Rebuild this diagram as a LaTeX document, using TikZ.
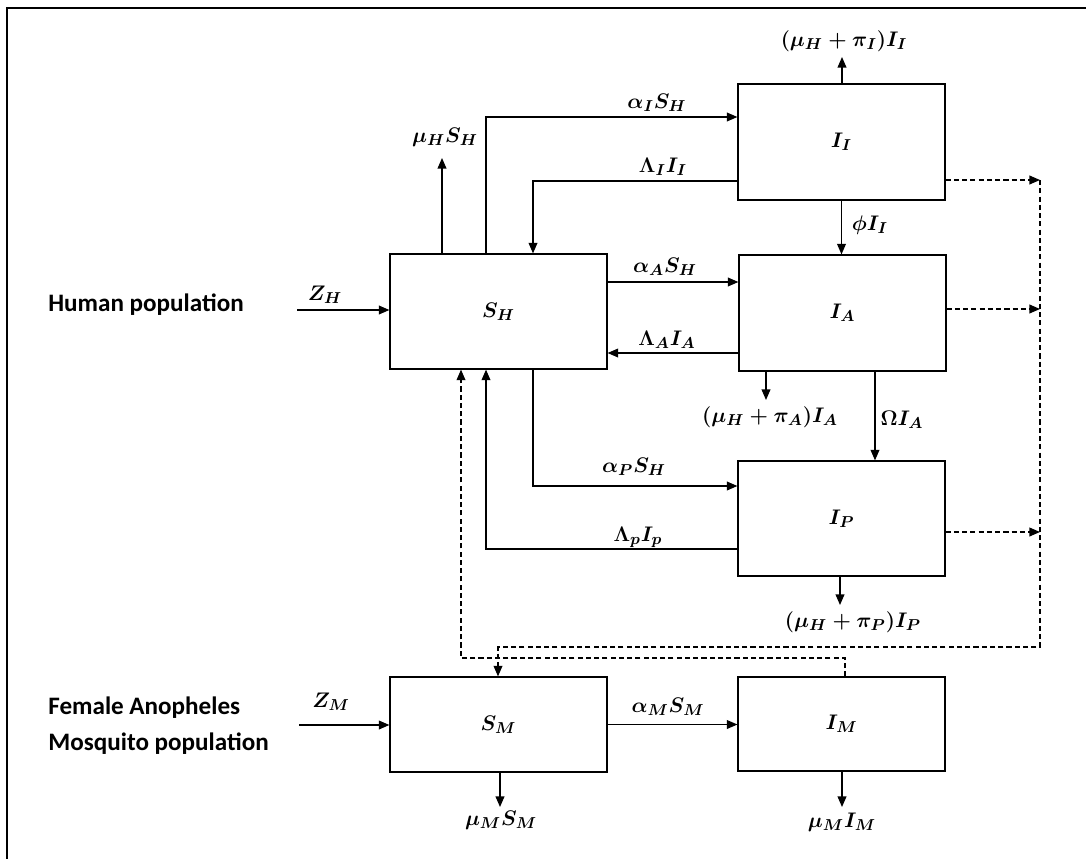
\documentclass[tikz,border=0pt]{standalone}
\usepackage{fontspec}
\newfontfamily\lblfont{Carlito}[BoldFont={Carlito Bold}]
\usetikzlibrary{arrows.meta}
\begin{document}
\begin{tikzpicture}[x=0.02cm,y=-0.02cm,
  box/.style={draw,line width=0.7pt,inner sep=0pt,font=\boldmath\fontsize{12.5}{15}\selectfont},
  arr/.style={line width=0.7pt,-{Triangle[length=6pt,width=5pt]}},
  dline/.style={line width=0.7pt,dash pattern=on 2.9pt off 1.8pt},
  darr/.style={dline,-{Triangle[length=6pt,width=5pt]}},
  lbl/.style={inner sep=0pt,font=\boldmath\fontsize{12.5}{15}\selectfont},
  poptxt/.style={inner sep=0pt,font=\lblfont\bfseries\fontsize{14.3}{20.5}\selectfont,align=left,anchor=west}]
\useasboundingbox (0,0) rectangle (1086,859);
\draw[line width=1.4pt] (7,859) -- (7,8) -- (1086,8);

% boxes
\node[box,minimum width=4.34cm,minimum height=2.30cm] (SH) at (498.5,311.5) {$S_H$};
\node[box,minimum width=4.14cm,minimum height=2.32cm] (II) at (841.5,142) {$I_I$};
\node[box,minimum width=4.14cm,minimum height=2.32cm] (IA) at (842.5,313) {$I_A$};
\node[box,minimum width=4.14cm,minimum height=2.30cm] (IP) at (841.5,518.5) {$I_P$};
\node[box,minimum width=4.34cm,minimum height=1.90cm] (SM) at (498.5,724.5) {$S_M$};
\node[box,minimum width=4.14cm,minimum height=1.88cm] (IM) at (841.5,724) {$I_M$};

% population labels
\node[poptxt] (hp) at (48,305) {Human population};
\node[poptxt] (mp) at (48,726) {Female Anopheles\\Mosquito population};

% coordinates
\coordinate (zh) at (297,310);
\coordinate (zm) at (299,725);
\coordinate (muS) at (442,158);
\coordinate (aI) at (486,117);
\coordinate (lI) at (533,181);
\coordinate (aA) at (607,282);
\coordinate (lA) at (739,353);
\coordinate (mA) at (766,400);
\coordinate (om) at (875,420);
\coordinate (aP) at (533,486);
\coordinate (lP) at (486,549);
\coordinate (mP) at (840,605);
\coordinate (mS) at (500,807);
\coordinate (mI) at (842,807);
\coordinate (mII) at (842,57);
\coordinate (d1) at (845,658);
\coordinate (d2) at (461,658);
\coordinate (r1) at (1040,180);
\coordinate (r2) at (1040,309);
\coordinate (r3) at (1040,532);
\coordinate (rc) at (1040,647);
\coordinate (sm) at (498,647);

% labels
\node[lbl] (LZH) at (325,295) {$Z_H$};
\node[lbl] (LZM) at (331,702) {$Z_M$};
\node[lbl] (LmuSH) at (445,137) {$\mu_H S_H$};
\node[lbl] (LaI) at (657,103) {$\alpha_I S_H$};
\node[lbl] (LlI) at (663,167) {$\Lambda_I I_I$};
\node[lbl] (LmII) at (844,41) {$(\mu_H+\pi_I)I_I$};
\node[lbl] (Lphi) at (870,225) {$\phi I_I$};
\node[lbl] (LaA) at (665,267) {$\alpha_A S_H$};
\node[lbl] (LlA) at (667,340) {$\Lambda_A I_A$};
\node[lbl] (LmA) at (770,417) {$(\mu_H+\pi_A)I_A$};
\node[lbl] (Lom) at (902,420) {$\Omega I_A$};
\node[lbl] (LaP) at (634,467) {$\alpha_P S_H$};
\node[lbl] (LlP) at (638,537) {$\Lambda_p I_p$};
\node[lbl] (LmP) at (853,622) {$(\mu_H+\pi_P)I_P$};
\node[lbl] (LaM) at (668,707) {$\alpha_M S_M$};
\node[lbl] (LmS) at (501,820) {$\mu_M S_M$};
\node[lbl] (LmI) at (842,822) {$\mu_M I_M$};

% solid connectors
\draw[arr] (zh) -- (zh -| SH.west);
\draw[arr] (zm) -- (zm -| SM.west);
\draw[arr] (muS |- SH.north) -- (muS);
\draw[arr] (aI |- SH.north) -- (aI) -- (aI -| II.west);
\draw[arr] (lI -| II.west) -- (lI) -- (lI |- SH.north);
\draw[arr] (mII |- II.north) -- (mII);
\draw[arr] (II.south) -- (II.south |- IA.north);
\draw[arr] (aA) -- (aA -| IA.west);
\draw[arr] (lA) -- (lA -| SH.east);
\draw[arr] (mA |- IA.south) -- (mA);
\draw[arr] (om |- IA.south) -- (om |- IP.north);
\draw[arr] (aP |- SH.south) -- (aP) -- (aP -| IP.west);
\draw[arr] (lP -| IP.west) -- (lP) -- (lP |- SH.south);
\draw[arr] (mP |- IP.south) -- (mP);
\draw[arr] (SM.east) -- (SM.east -| IM.west);
\draw[arr] (mS |- SM.south) -- (mS);
\draw[arr] (mI |- IM.south) -- (mI);

% dashed connectors
\draw[darr] (r1 -| II.east) -- (r1);
\draw[darr] (r2 -| IA.east) -- (r2);
\draw[darr] (r3 -| IP.east) -- (r3);
\draw[darr] (r1) -- (rc) -- (sm) -- (sm |- SM.north);
\draw[darr] (d1 |- IM.north) -- (d1) -- (d2) -- (d2 |- SH.south);
\end{tikzpicture}
\end{document}
